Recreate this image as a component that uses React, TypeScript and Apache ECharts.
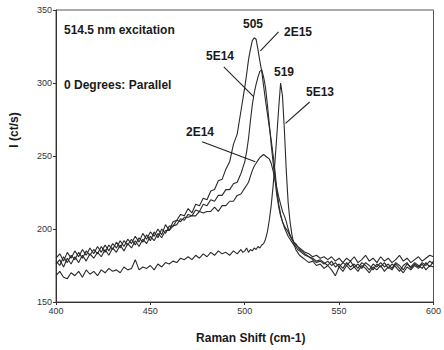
import React, { useEffect, useRef } from "react";
import * as echarts from "echarts";

// Raman shift (cm-1) sample positions
const shifts: number[] = [
  400, 402, 404, 406, 408, 410, 412, 414, 416, 418,
  420, 422, 424, 426, 428, 430, 432, 434, 436, 438,
  440, 442, 444, 446, 448, 450, 452, 454, 456, 458,
  460, 462, 464, 466, 468, 470, 472, 474, 476, 478,
  480, 482, 484, 486, 488, 490, 492, 494, 496, 498,
  499, 500, 501, 502, 503, 504, 505, 506, 507, 508,
  509, 510, 511, 512, 513, 514, 515, 516, 517, 518,
  519, 520, 521, 522, 523, 524, 525, 526, 527, 528,
  529, 530,
  532, 534, 536, 538, 540, 542, 544, 546, 548, 550,
  552, 554, 556, 558, 560, 562, 564, 566, 568, 570,
  572, 574, 576, 578, 580, 582, 584, 586, 588, 590,
  592, 594, 596, 598, 600,
];

const dose2E15: number[] = [
  180, 183, 178, 184, 180, 185, 181, 186, 182, 187,
  183, 188, 184, 189, 185, 190, 187, 192, 188, 193,
  190, 195, 191, 197, 193, 198, 195, 200, 196, 203,
  199, 205, 206, 210, 209, 214, 211, 217, 216, 221,
  220, 226, 227, 233, 234, 241, 246, 258, 265, 281,
  289, 297, 306, 316, 323, 329, 331, 330, 323, 315,
  308, 298, 288, 279, 270, 261, 251, 240, 227, 217,
  210, 205, 202, 200, 198, 195, 193, 191, 190, 188,
  187, 186,
  184, 183, 181, 182, 180, 181, 179, 181, 178, 180,
  177, 180, 178, 181, 177, 179, 182, 178, 180, 177,
  181, 178, 180, 177, 179, 182, 178, 180, 177, 179,
  181, 178, 180, 182, 181,
];

const dose5E14: number[] = [
  176, 179, 174, 180, 176, 181, 177, 182, 178, 183,
  180, 184, 181, 186, 182, 187, 184, 189, 185, 190,
  187, 192, 188, 193, 190, 195, 192, 197, 194, 199,
  199, 202, 203, 207, 206, 210, 209, 213, 212, 217,
  216, 220, 219, 223, 223, 227, 227, 231, 232, 238,
  242, 246, 253, 262, 274, 285, 293, 299, 304, 308,
  309, 304, 297, 285, 272, 258, 246, 234, 223, 215,
  209, 205, 201, 198, 195, 193, 191, 189, 188, 186,
  185, 184,
  182, 181, 179, 177, 178, 176, 178, 175, 177, 174,
  177, 175, 178, 174, 176, 173, 177, 175, 172, 176,
  174, 177, 173, 176, 174, 171, 175, 177, 173, 176,
  174, 177, 175, 178, 176,
];

const dose2E14: number[] = [
  178, 175, 181, 177, 182, 179, 184, 180, 185, 182,
  186, 183, 188, 184, 189, 186, 191, 187, 192, 189,
  193, 189, 194, 191, 196, 192, 198, 194, 200, 197,
  202, 202, 206, 205, 208, 208, 209, 209, 212, 211,
  212, 212, 215, 212, 216, 216, 219, 219, 223, 224,
  226, 228, 230, 232, 236, 240, 243, 245, 247, 249,
  250, 251, 250, 249, 248, 245, 240, 234, 228, 222,
  217, 212, 209, 205, 200, 196, 193, 191, 189, 188,
  186, 185,
  183, 181, 180, 178, 179, 177, 175, 178, 174, 176,
  173, 177, 174, 176, 173, 177, 175, 172, 176, 174,
  177, 174, 176, 173, 177, 175, 172, 176, 174, 177,
  175, 173, 177, 174, 178,
];

const dose5E13: number[] = [
  168, 171, 167, 166, 170, 168, 171, 167, 172, 169,
  171, 168, 172, 170, 173, 171, 172, 170, 174, 172,
  173, 179, 172, 174, 173, 175, 172, 176, 174, 177,
  176, 178, 177, 180, 179, 181, 179, 182, 180, 183,
  181, 184, 182, 185, 183, 184, 182, 185, 183, 186,
  184, 185, 187, 184, 186, 185, 187, 186, 188, 187,
  189, 190, 193, 198, 206, 216, 229, 246, 264, 283,
  300, 291, 268, 240, 218, 205, 196, 190, 186, 184,
  182, 181,
  179, 177, 178, 175, 176, 173, 175, 172, 168, 174,
  171, 175, 172, 174, 171, 175, 173, 170, 174, 172,
  175, 171, 174, 172, 176, 173, 170, 174, 172, 175,
  173, 176, 172, 175, 174,
];

const xTicks = { min: 400, max: 600, step: 50 };
const yTicks = { min: 150, max: 350, step: 50 };

// annotation arrows in data coordinates: [from, to]
const arrows: [number, number][][] = [
  [[517.9, 335], [508.3, 322]],
  [[488.9, 311], [504.7, 290.6]],
  [[534.4, 287], [521.6, 272.4]],
  [[477.4, 259.8], [505.6, 246.1]],
];

const zip = (ys: number[]) => shifts.map((x, i) => [x, ys[i]]);

export default function App() {
  const ref = useRef<HTMLDivElement>(null);
  useEffect(() => {
    if (!ref.current) return;
    const chart = echarts.init(ref.current, undefined, { renderer: "svg" });
    const lineColor = "#2a2a2a";
    const font = "Arial, 'Liberation Sans', sans-serif";
    const mk = (name: string, ys: number[], withArrows = false) => ({
      name,
      type: "line",
      data: zip(ys),
      showSymbol: false,
      symbol: "none",
      lineStyle: { color: lineColor, width: 1.1 },
      ...(withArrows
        ? {
            markLine: {
              silent: true,
              symbol: ["none", "arrow"],
              symbolSize: [0, 7],
              label: { show: false },
              lineStyle: { color: "#222", width: 1.1, type: "solid" },
              data: arrows.map((a) => [{ coord: a[0] }, { coord: a[1] }]),
            },
          }
        : {}),
    });
    const txt = (text: string, x: number, y: number, size = 12, align = "center") => ({
      type: "text",
      x,
      y,
      style: {
        text,
        fill: "#1a1a1a",
        font: `bold ${size}px ${font}`,
        textAlign: align,
        textVerticalAlign: "middle",
      },
    });
    chart.setOption({
      animation: false,
      backgroundColor: "#fff",
      grid: {
        left: 56,
        right: 8,
        top: 10,
        bottom: 48,
        containLabel: false,
        show: true,
        borderColor: "#555",
        borderWidth: 1,
      },
      xAxis: {
        type: "value",
        min: xTicks.min,
        max: xTicks.max,
        interval: xTicks.step,
        name: "Raman Shift (cm-1)",
        nameLocation: "middle",
        nameGap: 30,
        nameTextStyle: { fontFamily: font, fontSize: 12, fontWeight: "bold", color: "#1a1a1a", padding: [0, 0, 0, 12] },
        axisLine: { lineStyle: { color: "#333" } },
        axisTick: { length: 3, lineStyle: { color: "#333" } },
        axisLabel: { fontFamily: font, fontSize: 9, color: "#333", margin: 4 },
        splitLine: { show: false },
      },
      yAxis: {
        type: "value",
        min: yTicks.min,
        max: yTicks.max,
        interval: yTicks.step,
        name: "I (ct/s)",
        nameLocation: "middle",
        nameGap: 36,
        nameTextStyle: { fontFamily: font, fontSize: 12, fontWeight: "bold", color: "#1a1a1a", padding: [0, 0, 0, 52] },
        axisLine: { show: true, lineStyle: { color: "#333" } },
        axisTick: { show: true, length: 3, lineStyle: { color: "#333" } },
        axisLabel: { fontFamily: font, fontSize: 9, color: "#333", margin: 4 },
        splitLine: { show: false },
      },
      series: [
        mk("2E15", dose2E15, true),
        mk("5E14", dose5E14),
        mk("2E14", dose2E14),
        mk("5E13", dose5E13),
      ],
      graphic: [
        txt("514.5 nm excitation", 64, 30, 12, "left"),
        txt("0 Degrees: Parallel", 64, 85, 12, "left"),
        txt("505", 253, 24),
        txt("2E15", 298, 32),
        txt("5E14", 220, 56),
        txt("519", 284, 72),
        txt("5E13", 320, 92),
        txt("2E14", 200, 132),
      ],
    });
    return () => chart.dispose();
  }, []);
  return <div ref={ref} style={{ width: 444, height: 350, position: "absolute", left: 0, top: 0 }} />;
}
